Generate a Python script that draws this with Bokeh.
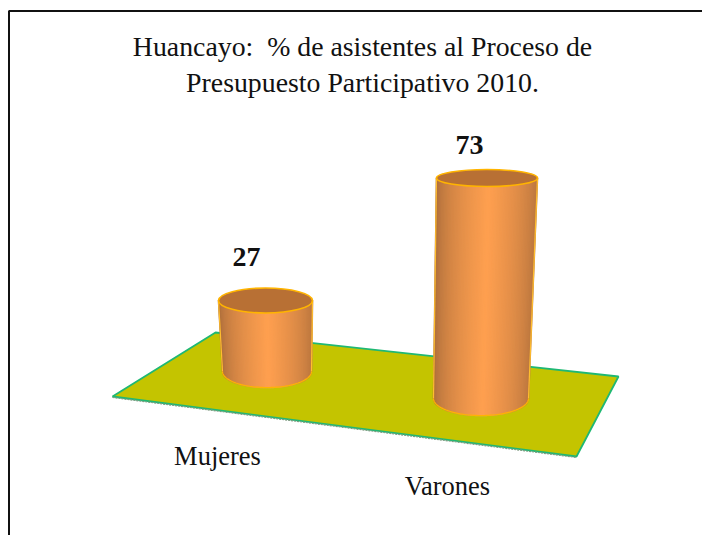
import numpy as np
from bokeh.plotting import figure
from bokeh.models import Range1d
from bokeh.core.properties import value
from bokeh.embed import file_html
from bokeh.resources import INLINE

# data
categories = ["Mujeres", "Varones"]
values = [27, 73]
title_lines = ["Huancayo:\u00a0 % de asistentes al Proceso de", "Presupuesto Participativo 2010."]

# layout (screen-like coordinates; perspective makes each bar's scale differ)
base_cx = [266.5, 480.5]
base_cy = [371, 398]
base_rx = [44.5, 47.5]
base_ry = [16, 17]
top_cx = [265, 486.5]
top_rx = [47, 50.5]
top_ry = [12.5, 8.5]
unit_px = [2.63, 3.02]
plane_x = [112, 215, 618, 576]
plane_y = [396, 332, 376, 456]
cat_x = [217, 447]
cat_y = [455, 485]
val_x = [246, 469]
label_gap = [43, 33]

W, H = 702, 535
p = figure(width=W, height=H, output_backend="svg", toolbar_location=None,
           x_range=Range1d(0, W), y_range=Range1d(H, 0),
           min_border=0, x_axis_location=None, y_axis_location=None)
p.grid.visible = False
p.outline_line_color = None
p.background_fill_color = "white"

SERIF = value("Liberation Serif")

# frame
p.line([8.5, 8.5, 702], [535, 10.5, 10.5], line_color="#111111", line_width=2)

# floor
p.patch(plane_x, plane_y, fill_color="#c4c400", line_color="#1fb873", line_width=1.8)
p.line([plane_x[0], plane_x[3]], [plane_y[0] + 1, plane_y[3] + 1],
       line_color="#7f9a80", line_width=1.2, line_dash="2 1")

def shade(t):
    # dark at the rims, light just right of the middle
    k = np.clip(1 - abs(t - 0.05) / 1.05, 0, 1) ** 0.5
    dark = np.array([0xa0, 0x66, 0x38])
    light = np.array([0xff, 0xa0, 0x50])
    c = dark + (light - dark) * k
    return "#%02x%02x%02x" % tuple(int(v) for v in c)

N = 70
for i, v in enumerate(values):
    cy_top = base_cy[i] - v * unit_px[i]
    edges = np.linspace(-1, 1, N + 1)
    xs, ys, cols = [], [], []
    for a, b in zip(edges[:-1], edges[1:]):
        xs.append([top_cx[i] + top_rx[i] * a, top_cx[i] + top_rx[i] * b,
                   base_cx[i] + base_rx[i] * b, base_cx[i] + base_rx[i] * a])
        ys.append([cy_top, cy_top,
                   base_cy[i] + base_ry[i] * np.sqrt(max(0, 1 - b * b)),
                   base_cy[i] + base_ry[i] * np.sqrt(max(0, 1 - a * a))])
        cols.append(shade((a + b) / 2))
    p.patches(xs, ys, fill_color=cols, line_color=cols, line_width=1.6)
    # bright outline: sides, base and cap
    p.segment([top_cx[i] - top_rx[i], top_cx[i] + top_rx[i]], [cy_top, cy_top],
              [base_cx[i] - base_rx[i], base_cx[i] + base_rx[i]], [base_cy[i], base_cy[i]],
              line_color="#ffbe2e", line_width=1.2)
    th = np.linspace(0, np.pi, 60)
    p.line(base_cx[i] + base_rx[i] * np.cos(th), base_cy[i] + base_ry[i] * np.sin(th),
           line_color="#ffb400", line_width=1.2)
    p.ellipse([top_cx[i]], [cy_top], width=2 * top_rx[i], height=2 * top_ry[i],
              fill_color="#b87034", line_color="#ffb400", line_width=1.6)
    p.text([val_x[i]], [cy_top - label_gap[i]], text=[str(v)], text_font=SERIF,
           text_font_size="28px", text_font_style="bold", text_color="#111111",
           text_align="center", text_baseline="middle")

p.text(cat_x, cat_y, text=categories, text_font=SERIF, text_font_size="26.5px",
       text_color="#111111", text_align="center", text_baseline="middle")
p.text([362, 362], [46, 82], text=title_lines, text_font=SERIF, text_font_size="27.8px",
       text_color="#111111", text_align="center", text_baseline="middle")

open("out.html", "w").write(file_html(p, INLINE))
